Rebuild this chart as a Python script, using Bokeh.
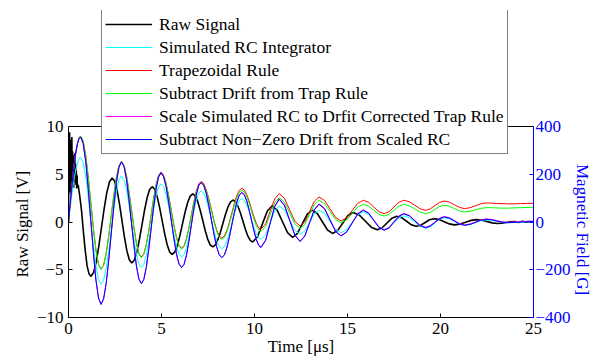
import math
from bokeh.plotting import figure
from bokeh.models import Range1d, LinearAxis, FixedTicker, Legend, LegendItem, Span, Title
from bokeh.embed import file_html
from bokeh.resources import INLINE

# ---------------- data ----------------
x_ticks = [0, 5, 10, 15, 20, 25]
y_ticks = [-10, -5, 0, 5, 10]
field_ticks = [-400, -200, 0, 200, 400]

# Raw signal [V]
t_raw = [0.00, 0.02, 0.04, 0.06, 0.08, 0.10, 0.12, 0.14, 0.16, 0.18, 0.20, 0.22, 0.24,
         0.26, 0.28, 0.30, 0.32, 0.34, 0.36, 0.38, 0.40, 0.42, 0.44, 0.46, 0.48,
         0.52, 0.6, 0.7, 0.8, 0.9, 1.0, 1.1,
         1.2, 1.344, 1.4875, 1.631, 1.775, 1.919, 2.0625, 2.206,
         2.35, 2.481, 2.6125, 2.744, 2.875, 3.006, 3.1375, 3.269,
         3.4, 3.5375, 3.675, 3.8125, 3.95, 4.0875, 4.225, 4.3625,
         4.5, 4.634, 4.7675, 4.901, 5.035, 5.169, 5.3025, 5.436,
         5.57, 5.709, 5.8475, 5.986, 6.125, 6.264, 6.4025, 6.541,
         6.68, 6.814, 6.9475, 7.081, 7.215, 7.349, 7.4825, 7.616,
         7.75, 7.8875, 8.025, 8.1625, 8.3, 8.4375, 8.575, 8.7125,
         8.85, 8.981, 9.1125, 9.244, 9.375, 9.506, 9.6375, 9.769,
         9.9, 10.16, 10.425, 10.69,
         10.95, 11.225, 11.5, 11.775,
         12.05, 12.31, 12.575, 12.84,
         13.1, 13.375, 13.65, 13.925,
         14.2, 14.475, 14.75, 15.025,
         15.3, 15.625, 15.95, 16.275,
         16.6, 16.86, 17.125, 17.39,
         17.65, 17.91, 18.175, 18.44,
         18.7, 18.94, 19.175, 19.41,
         19.65, 19.925, 20.2, 20.475,
         20.75, 21.05, 21.35, 21.65,
         21.95, 22.225, 22.5, 22.775,
         23.05, 23.29, 23.525, 23.76,
         24.0, 24.2, 24.4, 24.6, 24.8, 25.0]
raw_signal = [0.0, 7.8, 3.1, 9.4, 4.0, 8.6, 2.9, 7.9, 4.6, 8.9, 3.8, 7.4, 4.9,
              7.0, 3.6, 6.8, 4.8, 7.2, 4.2, 6.1, 3.9, 5.4, 3.5, 4.9, 3.6,
              3.9, 2.8, 1.2, -1.0, -3.0, -4.6, -5.4,
              -5.7, -5.31, -4.2, -2.52, -0.55, 1.42, 3.1, 4.21,
              4.6, 4.26, 3.3, 1.85, 0.15, -1.55, -3.0, -3.96,
              -4.3, -4.0, -3.13, -1.83, -0.3, 1.23, 2.53, 3.4,
              3.7, 3.43, 2.66, 1.51, 0.15, -1.21, -2.36, -3.13,
              -3.4, -3.16, -2.47, -1.44, -0.23, 0.99, 2.02, 2.71,
              2.95, 2.74, 2.14, 1.23, 0.18, -0.89, -1.79, -2.39,
              -2.6, -2.41, -1.88, -1.09, -0.15, 0.79, 1.58, 2.11,
              2.3, 2.13, 1.66, 0.94, 0.1, -0.74, -1.46, -1.93,
              -2.1, -1.55, -0.2, 1.15,
              1.7, 1.22, 0.05, -1.12,
              -1.6, -1.18, -0.18, 0.83,
              1.25, 0.89, 0.03, -0.84,
              -1.2, -0.88, -0.1, 0.68,
              1.0, 0.74, 0.1, -0.54,
              -0.8, -0.6, -0.1, 0.4,
              0.6, 0.45, 0.08, -0.3,
              -0.45, -0.33, -0.05, 0.23,
              0.35, 0.25, 0.03, -0.2,
              -0.3, -0.22, -0.03, 0.17,
              0.25, 0.19, 0.05, -0.09,
              -0.15, -0.12, -0.05, 0.02,
              0.05, -0.06, 0.07, -0.03, 0.06, 0.0]

# Magnetic field series [G]
t_field = [0, 0.081, 0.1625, 0.244, 0.325, 0.406, 0.4875, 0.569,
           0.65, 0.7875, 0.925, 1.0625, 1.2, 1.3375, 1.475, 1.6125,
           1.75, 1.8875, 2.025, 2.1625, 2.3, 2.4375, 2.575, 2.7125,
           2.85, 2.984, 3.1175, 3.251, 3.385, 3.519, 3.6525, 3.786,
           3.92, 4.051, 4.1825, 4.314, 4.445, 4.576, 4.7075, 4.839,
           4.97, 5.109, 5.2475, 5.386, 5.525, 5.664, 5.8025, 5.941,
           6.08, 6.211, 6.3425, 6.474, 6.605, 6.736, 6.8675, 6.999,
           7.13, 7.269, 7.4075, 7.546, 7.685, 7.824, 7.9625, 8.101,
           8.24, 8.375, 8.51, 8.645, 8.78, 8.915, 9.05, 9.185,
           9.32, 9.449, 9.5775, 9.706, 9.835, 9.964, 10.0925, 10.221,
           10.35, 10.6, 10.84, 11.09,
           11.33, 11.61, 11.89, 12.17,
           12.45, 12.71, 12.96, 13.22,
           13.47, 13.77, 14.06, 14.36,
           14.65, 14.95, 15.25, 15.55,
           15.85, 16.13, 16.41, 16.69,
           16.97, 17.24, 17.5, 17.77,
           18.03, 18.32, 18.615, 18.91,
           19.2, 19.45, 19.7, 19.95,
           20.2, 20.48, 20.75, 21.03,
           21.3, 21.59, 21.875, 22.16,
           22.45, 22.74, 23.025, 23.31,
           23.6, 23.95, 24.3, 24.65,
           25]

rc_integrator = [0, 52, 103, 150, 190, 224, 249, 264,
                 269, 249, 192, 105, 4, -97, -184, -241,
                 -261, -244, -195, -121, -34, 53, 127, 176,
                 193, 178, 137, 74, 1, -72, -135, -176,
                 -191, -178, -140, -83, -16, 52, 109, 147,
                 160, 148, 115, 65, 7, -52, -102, -135,
                 -147, -137, -107, -61, -9, 44, 90, 120,
                 130, 121, 95, 55, 9, -37, -77, -103,
                 -112, -104, -81, -47, -7, 33, 67, 90,
                 98, 91, 73, 45, 13, -20, -48, -66,
                 -73, -53, -3, 47,
                 67, 50, 8, -35,
                 -52, -37, -2, 34,
                 49, 35, 2, -31,
                 -45, -32, -1, 30,
                 43, 32, 6, -20,
                 -31, -23, -3, 18,
                 26, 18, 0, -18,
                 -26, -20, -4, 12,
                 18, 13, 2, -9,
                 -14, -11, -3, 6,
                 9, 7, 3, -1,
                 -3, -2, 0, 1,
                 2]

trapezoidal = [0, 70, 138, 200, 255, 299, 333, 353,
               360, 339, 279, 188, 81, -26, -117, -177,
               -198, -181, -132, -59, 28, 114, 187, 236,
               253, 238, 195, 129, 53, -23, -89, -132,
               -147, -133, -95, -37, 31, 99, 157, 195,
               209, 197, 162, 110, 50, -11, -63, -98,
               -110, -99, -69, -24, 30, 84, 129, 159,
               170, 161, 135, 97, 52, 6, -32, -58,
               -67, -59, -37, -3, 37, 77, 111, 133,
               141, 135, 116, 88, 56, 23, -5, -24,
               -30, -8, 45, 97,
               119, 99, 51, 3,
               -17, 1, 44, 87,
               105, 90, 55, 19,
               4, 17, 48, 78,
               91, 83, 63, 43,
               35, 43, 63, 83,
               91, 85, 70, 55,
               49, 55, 69, 82,
               88, 83, 72, 61,
               56, 60, 68, 76,
               80, 79, 78, 77,
               76, 76, 77, 78,
               78]

trap_drift_sub = [0, 70, 138, 200, 255, 299, 333, 353,
                  360, 339, 279, 188, 81, -26, -117, -177,
                  -198, -181, -132, -59, 27, 113, 186, 235,
                  252, 237, 193, 128, 52, -25, -90, -134,
                  -149, -135, -97, -39, 28, 96, 154, 192,
                  206, 194, 159, 107, 46, -15, -67, -102,
                  -114, -103, -73, -28, 26, 79, 124, 154,
                  165, 156, 130, 91, 46, 0, -38, -64,
                  -73, -65, -43, -9, 30, 69, 103, 125,
                  133, 126, 108, 80, 47, 13, -15, -33,
                  -40, -19, 31, 81,
                  102, 83, 38, -8,
                  -27, -10, 32, 74,
                  91, 77, 44, 11,
                  -3, 8, 36, 63,
                  74, 67, 50, 32,
                  25, 32, 50, 67,
                  74, 68, 55, 41,
                  35, 40, 53, 65,
                  70, 66, 56, 46,
                  42, 45, 51, 57,
                  60, 60, 59, 58,
                  58, 59, 60, 61,
                  62]

scaled_rc = [0, 69, 136, 198, 252, 296, 329, 349,
             356, 329, 254, 139, 6, -128, -243, -318,
             -345, -322, -258, -161, -47, 68, 165, 229,
             252, 233, 178, 94, -3, -100, -184, -239,
             -258, -240, -190, -115, -26, 63, 138, 188,
             206, 191, 148, 83, 8, -68, -133, -176,
             -191, -178, -139, -81, -13, 55, 113, 152,
             165, 153, 119, 68, 8, -52, -103, -137,
             -149, -139, -109, -65, -12, 40, 84, 114,
             124, 115, 91, 53, 9, -34, -72, -96,
             -105, -75, -4, 67,
             97, 71, 9, -54,
             -80, -57, -2, 53,
             76, 57, 10, -38,
             -57, -41, -3, 35,
             51, 39, 9, -21,
             -33, -23, 2, 26,
             36, 28, 7, -14,
             -22, -15, 0, 16,
             23, 18, 6, -7,
             -12, -8, 0, 9,
             13, 11, 6, 1,
             -1, 0, 2, 3,
             4]

scaled_rc_drift_sub = [0, 69, 136, 198, 252, 296, 329, 349,
                       356, 329, 254, 139, 6, -128, -243, -318,
                       -345, -322, -258, -161, -47, 68, 165, 229,
                       252, 233, 178, 94, -3, -100, -184, -239,
                       -258, -240, -190, -115, -26, 63, 138, 188,
                       206, 191, 148, 83, 8, -68, -133, -176,
                       -191, -178, -139, -81, -13, 55, 113, 152,
                       165, 153, 119, 68, 8, -52, -103, -137,
                       -149, -139, -109, -65, -13, 39, 83, 113,
                       123, 114, 89, 52, 8, -36, -73, -98,
                       -107, -77, -6, 65,
                       95, 69, 7, -56,
                       -82, -59, -4, 51,
                       74, 55, 8, -40,
                       -59, -43, -5, 33,
                       49, 37, 7, -23,
                       -35, -25, 0, 24,
                       34, 26, 5, -16,
                       -24, -17, -2, 14,
                       21, 16, 4, -9,
                       -14, -10, -2, 7,
                       11, 9, 4, -1,
                       -3, -2, 0, 1,
                       2]

labels = ["Raw Signal",
          "Simulated RC Integrator",
          "Trapezoidal Rule",
          "Subtract Drift from Trap Rule",
          "Scale Simulated RC to Drfit Corrected Trap Rule",
          "Subtract Non\u2212Zero Drift from Scaled RC"]

# ---------------- figure ----------------
FONT = "Liberation Serif"
FRAME_TOP_PX = 10          # frame extends above the axes box to hold the legend
PX_PER_V = 191 / 20.0      # axes box 126..317 px for -10..10 V
Y_TOP = 10 + (126 - FRAME_TOP_PX) / PX_PER_V
FIELD_TOP = Y_TOP * 40     # 10 V <-> 400 G

p = figure(width=606, height=360, output_backend="svg", toolbar_location=None,
           x_range=Range1d(0, 25), y_range=Range1d(-10, Y_TOP),
           min_border_left=68, min_border_right=73,
           min_border_top=FRAME_TOP_PX, min_border_bottom=43)
p.extra_y_ranges = {"field": Range1d(-400, FIELD_TOP)}
p.xgrid.visible = False
p.ygrid.visible = False
p.outline_line_color = None
p.background_fill_color = "white"
p.border_fill_color = "white"

r_raw = p.line(t_raw, raw_signal, line_color="black", line_width=1.6)
r_cyan = p.line(t_field, rc_integrator, line_color="#00ffff", line_width=1, y_range_name="field")
r_red = p.line(t_field, trapezoidal, line_color="#ff0000", line_width=1, y_range_name="field")
r_green = p.line(t_field, trap_drift_sub, line_color="#00ff00", line_width=1, y_range_name="field")
r_mag = p.line(t_field, scaled_rc, line_color="#ff00ff", line_width=1, y_range_name="field")
r_blue = p.line(t_field, scaled_rc_drift_sub, line_color="#0000ff", line_width=1, y_range_name="field")

# top edge of the axes box
p.add_layout(Span(location=10, dimension="width", line_color="black", line_width=1))

# axes
xa = p.xaxis[0]
xa.ticker = FixedTicker(ticks=x_ticks)
xa.axis_label = "Time [\u03bcs]"
ya = p.yaxis[0]
ya.ticker = FixedTicker(ticks=y_ticks)
ya.bounds = (-10, 10)
ya.major_label_overrides = {-10: "\u221210", -5: "\u22125"}

ra = LinearAxis(y_range_name="field", ticker=FixedTicker(ticks=field_ticks),
                bounds=(-400, 400))
ra.major_label_overrides = {-400: "\u2212400", -200: "\u2212200"}
p.add_layout(ra, "right")
# right label reads bottom-to-top; padded with no-break spaces so its visible
# part sits centred on the axes box rather than on the taller frame
ra.axis_label = "Magnetic Field [G]" + "\u00a0" * 27
if "axis_label_orientation" in type(ra).properties():
    ra.axis_label_orientation = -math.pi / 2

for ax in (xa, ya, ra):
    ax.major_tick_in = 4
    ax.major_tick_out = 0
    ax.minor_tick_in = 0
    ax.minor_tick_out = 0
    ax.major_label_text_font = FONT
    ax.major_label_text_font_size = "17px"
    ax.axis_label_text_font = FONT
    ax.axis_label_text_font_size = "17px"
    ax.axis_label_text_font_style = "normal"
    ax.axis_line_width = 1

for ax in (xa, ya):
    ax.axis_line_color = "black"
    ax.major_tick_line_color = "black"
    ax.major_label_text_color = "black"
    ax.axis_label_text_color = "black"

ra.axis_line_color = "#0000ff"
ra.major_tick_line_color = "#0000ff"
ra.major_label_text_color = "#0000ff"
ra.axis_label_text_color = "#0000ff"

xa.major_label_standoff = 5
xa.axis_label_standoff = 0
ya.major_label_standoff = 5
ra.major_label_standoff = 2
ra.axis_label_standoff = 9

# left axis title, positioned along the axes box (-10..10)
ytitle = Title(text="Raw Signal [V]", align="left", offset=40, standoff=4)
ytitle.text_font = FONT
ytitle.text_font_size = "17px"
ytitle.text_font_style = "normal"
ytitle.text_color = "black"
p.add_layout(ytitle, "left")

legend = Legend(items=[
    LegendItem(label=labels[0], renderers=[r_raw]),
    LegendItem(label=labels[1], renderers=[r_cyan]),
    LegendItem(label=labels[2], renderers=[r_red]),
    LegendItem(label=labels[3], renderers=[r_green]),
    LegendItem(label=labels[4], renderers=[r_mag]),
    LegendItem(label=labels[5], renderers=[r_blue]),
], location=(33, 163))
legend.label_text_font = FONT
legend.label_text_font_size = "17.5px"
legend.label_text_color = "black"
legend.glyph_width = 47
legend.glyph_height = 22
legend.label_height = 22
legend.label_standoff = 7
legend.spacing = 1
legend.padding = 3
legend.margin = 0
legend.border_line_color = "black"
legend.border_line_width = 1
legend.background_fill_color = "white"
legend.background_fill_alpha = 1.0
p.add_layout(legend, "center")

open("out.html", "w").write(file_html(p, INLINE))
